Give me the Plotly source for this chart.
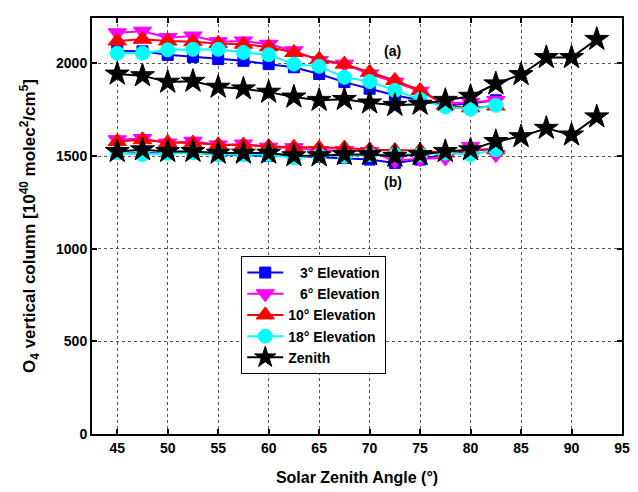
import plotly.graph_objects as go

# Solar zenith angles
sza_elev = [45, 47.5, 50, 52.5, 55, 57.5, 60, 62.5, 65, 67.5, 70, 72.5, 75, 77.5, 80, 82.5]
sza_zen = [45, 47.5, 50, 52.5, 55, 57.5, 60, 62.5, 65, 67.5, 70, 72.5, 75, 77.5, 80, 82.5, 85, 87.5, 90, 92.5]

# (a) group
a_3 = [2067, 2065, 2046, 2035, 2023, 2014, 1996, 1979, 1943, 1899, 1863, 1828, 1801, 1775, 1783, 1801]
a_6 = [2165, 2174, 2139, 2148, 2117, 2121, 2103, 2068, 2015, 1996, 1943, 1899, 1850, 1785, 1790, 1800]
a_10 = [2121, 2130, 2121, 2117, 2108, 2103, 2089, 2059, 2023, 1996, 1952, 1908, 1854, 1775, 1760, 1770]
a_18 = [2055, 2055, 2073, 2076, 2076, 2059, 2047, 1996, 1984, 1925, 1902, 1854, 1806, 1765, 1753, 1774]
a_zen = [1943, 1934, 1899, 1904, 1872, 1863, 1845, 1819, 1801, 1806, 1787, 1774, 1780, 1801, 1823, 1890, 1940, 2032, 2032, 2130]

# (b) group
b_3 = [1515, 1515, 1515, 1520, 1505, 1505, 1500, 1500, 1495, 1490, 1481, 1463, 1481, 1510, 1530, 1540]
b_6 = [1588, 1595, 1570, 1580, 1560, 1565, 1548, 1545, 1530, 1530, 1525, 1475, 1485, 1490, 1552, 1508]
b_10 = [1579, 1588, 1573, 1570, 1561, 1560, 1552, 1548, 1543, 1543, 1534, 1530, 1530, 1516, 1534, 1534]
b_18 = [1520, 1508, 1515, 1518, 1508, 1508, 1508, 1490, 1505, 1499, 1508, 1508, 1508, 1516, 1508, 1534]
b_zen = [1525, 1534, 1525, 1525, 1516, 1516, 1516, 1502, 1502, 1508, 1508, 1499, 1508, 1525, 1534, 1579, 1605, 1650, 1614, 1712]

names = ["\u00a0\u00a0\u00a03° Elevation", "\u00a0\u00a0\u00a06° Elevation", "10° Elevation", "18° Elevation", "Zenith"]
colors = ["#0000ff", "#ff00ff", "#ff0000", "#00ffff", "#000000"]
symbols = ["square", "triangle-down", "triangle-up", "circle", "star"]
sizes = [11, 16, 16, 14, 18]

series_a = [a_3, a_6, a_10, a_18, a_zen]
series_b = [b_3, b_6, b_10, b_18, b_zen]
xs = [sza_elev, sza_elev, sza_elev, sza_elev, sza_zen]

fig = go.Figure()
for i in range(5):
    for grp, data in (("a", series_a[i]), ("b", series_b[i])):
        fig.add_trace(go.Scatter(
            x=xs[i], y=data, mode="lines+markers",
            name=names[i], legendgroup=names[i], showlegend=(grp == "a"),
            line=dict(color=colors[i], width=2),
            marker=dict(symbol=symbols[i], size=sizes[i], color=colors[i],
                        line=dict(color=colors[i], width=1)),
        ))

font_family = "Liberation Sans, Arial, sans-serif"

fig.add_annotation(x=72.3, y=2069, text="(a)", showarrow=False,
                   font=dict(family=font_family, size=14, color="black", weight="bold"))
fig.add_annotation(x=72.3, y=1360, text="(b)", showarrow=False,
                   font=dict(family=font_family, size=14, color="black", weight="bold"))

axis_common = dict(
    showline=True, linecolor="black", linewidth=2, mirror="ticks",
    ticks="inside", ticklen=5, tickwidth=1.5, tickcolor="black",
    showgrid=True, gridcolor="#555555", griddash="dot", gridwidth=1,
    zeroline=False,
    tickfont=dict(family=font_family, size=14, color="black", weight="bold"),
)

# The page body has an 8px default margin, so the figure is 8px smaller
fig.update_layout(
    width=630, height=484,
    margin=dict(l=84, r=11, t=8, b=56),
    paper_bgcolor="white", plot_bgcolor="white",
    font=dict(family=font_family, color="black"),
    xaxis=dict(range=[42.5, 95], tickmode="array",
               tickvals=[45, 50, 55, 60, 65, 70, 75, 80, 85, 90, 95],
               title=dict(text="Solar Zenith Angle (°)", standoff=17,
                          font=dict(family=font_family, size=16, color="black", weight="bold")),
               **axis_common),
    yaxis=dict(range=[0, 2245], tickmode="array",
               tickvals=[0, 500, 1000, 1500, 2000],
               title=dict(text="O<sub>4</sub> vertical column [10<sup>40</sup> molec<sup>2</sup>/cm<sup>5</sup>]",
                          standoff=16,
                          font=dict(family=font_family, size=17, color="black", weight="bold")),
               **axis_common),
    legend=dict(x=0.2816, y=0.428, xanchor="left", yanchor="top",
                bgcolor="white", bordercolor="black", borderwidth=1,
                font=dict(family=font_family, size=14, color="black", weight="bold"),
                tracegroupgap=0, itemwidth=36),
    showlegend=True,
)

fig.write_html("out.html")
